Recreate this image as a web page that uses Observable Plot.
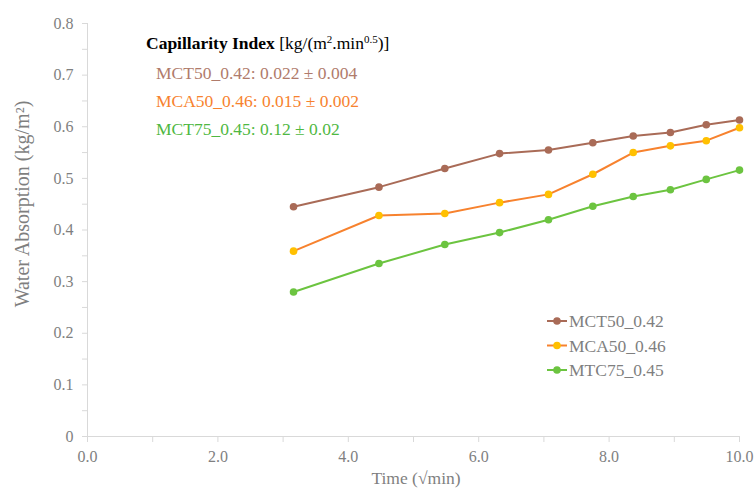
<!DOCTYPE html>
<html>
<head>
<meta charset="utf-8">
<script src="https://cdn.jsdelivr.net/npm/d3@7"></script>
<script src="https://cdn.jsdelivr.net/npm/@observablehq/plot@0.6"></script>
<style>
  html, body { margin: 0; padding: 0; background: #fff; }
  #chart { width: 754px; height: 488px; }
  svg text { font-family: "Liberation Serif", serif !important; }
</style>
</head>
<body>
<div id="chart"></div>
<script>
// Time (√min)
const timeSqrt = [3.16, 4.47, 5.48, 6.32, 7.07, 7.75, 8.37, 8.94, 9.49, 10.0];
// Water absorption (kg/m²)
const mct50 = [0.445, 0.483, 0.519, 0.548, 0.555, 0.569, 0.582, 0.589, 0.604, 0.613];
const mca50 = [0.359, 0.428, 0.432, 0.453, 0.469, 0.508, 0.550, 0.563, 0.573, 0.598];
const mtc75 = [0.280, 0.335, 0.372, 0.395, 0.420, 0.446, 0.465, 0.478, 0.498, 0.516];

const seriesNames = ["MCT50_0.42", "MCA50_0.46", "MTC75_0.45"];
const seriesValues = [mct50, mca50, mtc75];
const lineColors = ["#a96b57", "#f7822e", "#6cc440"];
const dotColors = ["#a96b57", "#ffc000", "#6cc440"];

const annotationTitleBold = "Capillarity Index";
const annotationLines = [
  "MCT50_0.42: 0.022 ± 0.004",
  "MCA50_0.46: 0.015 ± 0.002",
  "MCT75_0.45: 0.12 ± 0.02"
];
const annotationColors = ["#b07b6b", "#f7822e", "#4fb842"];

const xMajorTicks = [0, 2, 4, 6, 8, 10];
const xMinorTicks = [1, 3, 5, 7, 9];
const yMajorTicks = [0, 0.1, 0.2, 0.3, 0.4, 0.5, 0.6, 0.7, 0.8];
const yMinorTicks = [0.05, 0.15, 0.25, 0.35, 0.45, 0.55, 0.65, 0.75];

const xLabel = "Time (√min)";
const yLabel = "Water Absorption (kg/m²)";

const data = seriesNames.flatMap((name, i) =>
  timeSqrt.map((t, j) => ({series: name, t, v: seriesValues[i][j]}))
);

const axisGray = "#d9d9d9";
const textGray = "#7f7f7f";
const font = "Liberation Serif";

const svg = Plot.plot({
  width: 754,
  height: 488,
  marginLeft: 87,
  marginRight: 15,
  marginTop: 23,
  marginBottom: 52,
  style: {fontFamily: font, fontSize: "16px", color: textGray, background: "#fff"},
  x: {domain: [0, 10]},
  y: {domain: [0, 0.8]},
  marks: [
    Plot.ruleY([0], {stroke: axisGray, strokeWidth: 1}),
    Plot.ruleX([0], {stroke: axisGray, strokeWidth: 1}),
    Plot.axisX({ticks: xMinorTicks, tickSize: 6, tickFormat: () => "", stroke: axisGray, label: null}),
    Plot.axisX({ticks: xMajorTicks, tickSize: 6, tickPadding: 8, tickFormat: d => d.toFixed(1), stroke: axisGray, fill: textGray, label: null}),
    Plot.axisY({ticks: yMinorTicks, tickSize: 5, tickFormat: () => "", stroke: axisGray, label: null}),
    Plot.axisY({ticks: yMajorTicks, tickSize: 5, tickPadding: 9, tickFormat: d => d === 0 ? "0" : d.toFixed(1), stroke: axisGray, fill: textGray, label: null}),
    Plot.line(data, {x: "t", y: "v", z: "series", stroke: d => lineColors[seriesNames.indexOf(d.series)], strokeWidth: 2}),
    Plot.dot(data, {x: "t", y: "v", r: 3.8, fill: d => dotColors[seriesNames.indexOf(d.series)], stroke: "none"})
  ]
});

const s = d3.select(svg);

// axis titles
s.append("text")
  .attr("x", 416).attr("y", 484)
  .attr("text-anchor", "middle")
  .attr("font-size", 17.5)
  .attr("fill", textGray)
  .text(xLabel);

s.append("text")
  .attr("transform", "translate(29,204) rotate(-90)")
  .attr("text-anchor", "middle")
  .attr("font-size", 20)
  .attr("fill", textGray)
  .text(yLabel);

// annotation block
const title = s.append("text")
  .attr("x", 146).attr("y", 49)
  .attr("text-anchor", "start")
  .attr("font-size", 17.5)
  .attr("fill", "#000");
title.append("tspan").attr("font-weight", "bold").text(annotationTitleBold + " ");
title.append("tspan").text("[kg/(m");
title.append("tspan").attr("font-size", 11).attr("dy", -6).text("2");
title.append("tspan").attr("dy", 6).text(".min");
title.append("tspan").attr("font-size", 11).attr("dy", -6).text("0.5");
title.append("tspan").attr("dy", 6).text(")]");

annotationLines.forEach((line, i) => {
  s.append("text")
    .attr("x", 156).attr("y", 79 + i * 28)
    .attr("text-anchor", "start")
    .attr("font-size", 17.5)
    .attr("fill", annotationColors[i])
    .text(line);
});

// legend
seriesNames.forEach((name, i) => {
  const y = 321 + i * 24.5;
  const g = s.append("g");
  g.append("line").attr("x1", 547).attr("x2", 567).attr("y1", y).attr("y2", y)
    .attr("stroke", lineColors[i]).attr("stroke-width", 2);
  g.append("circle").attr("cx", 557).attr("cy", y).attr("r", 3.8).attr("fill", dotColors[i]);
  g.append("text").attr("x", 569).attr("y", y + 6)
    .attr("text-anchor", "start")
    .attr("font-size", 17.5)
    .attr("fill", textGray).text(name);
});

document.getElementById("chart").appendChild(svg);
</script>
</body>
</html>
